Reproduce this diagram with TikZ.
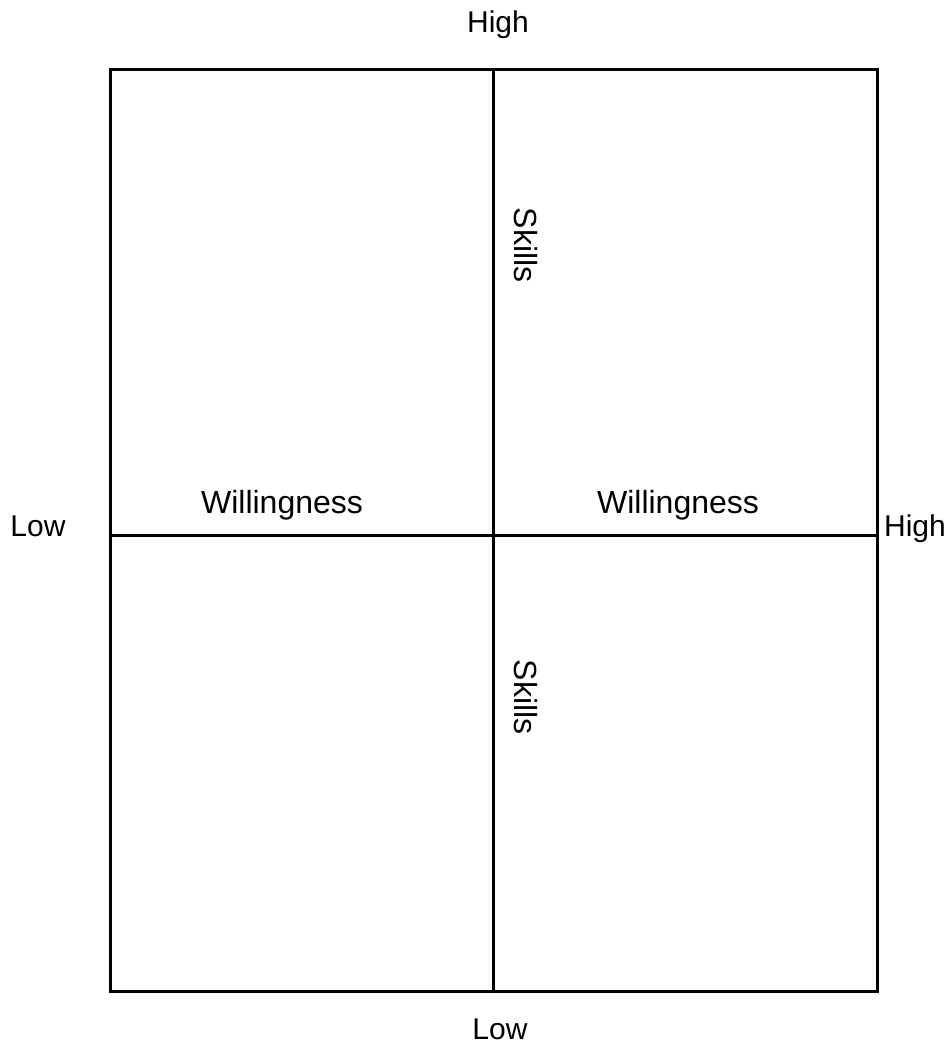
\documentclass[tikz,border=0pt]{standalone}
\usepackage{fontspec}
\setmainfont{Liberation Sans}
\begin{document}
\begin{tikzpicture}[x=1pt,y=-1pt,
  grid/.style={line width=3pt},
  axislabel/.style={font=\fontsize{30}{36}\selectfont, anchor=base, inner sep=0pt},
  celllabel/.style={font=\fontsize{32}{38}\selectfont, anchor=base, inner sep=0pt}]
\useasboundingbox (0,0) rectangle (949,1044);
\coordinate (tl) at (110,69);
\coordinate (br) at (877,991);
\coordinate (mt) at (493,69);
\coordinate (mb) at (493,991);
\coordinate (ml) at (110,535);
\coordinate (mr) at (877,535);
\draw[grid] (tl) rectangle (br);
\draw[grid] (mt) -- (mb);
\draw[grid] (ml) -- (mr);
\node[axislabel] (hightop) at (498,32) {High};
\node[axislabel] (lowleft) at (38,536) {Low};
\node[axislabel] (highright) at (915,536) {High};
\node[axislabel] (lowbottom) at (500,1039) {Low};
\node[celllabel] (willl) at (282,513) {Willingness};
\node[celllabel] (willr) at (678,513) {Willingness};
\node[celllabel, rotate=-90] (skillst) at (514,245) {Skills};
\node[celllabel, rotate=-90] (skillsb) at (514,697) {Skills};
\end{tikzpicture}
\end{document}
